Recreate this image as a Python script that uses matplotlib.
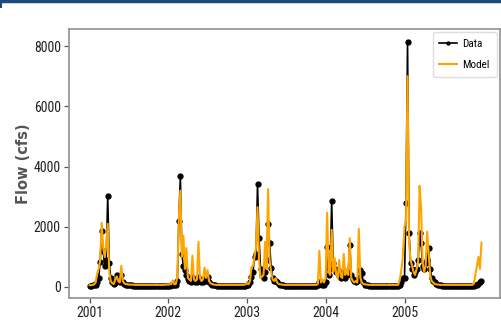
import pandas as pd
import matplotlib
matplotlib.use('Agg')
import matplotlib.pyplot as plt
from matplotlib import font_manager
from matplotlib.lines import Line2D

# Weekly flow values (cfs), one list per year
data_2001 = [40, 45, 50, 60, 80, 150, 300, 840, 1850, 1200, 700, 900, 3030,
             800, 300, 150, 100, 120, 400, 200, 150, 400, 150, 100, 80, 60,
             55, 50, 50, 45, 45, 40, 40, 40, 40, 40, 40, 40, 40,
             40, 40, 40, 40, 40, 40, 40, 40, 40, 40, 40, 45, 45]
model_2001 = [60, 60, 70, 90, 150, 450, 600, 900, 2130, 1300, 1000, 1360, 2100,
              500, 200, 120, 100, 250, 350, 200, 150, 700, 200, 120, 100, 90,
              80, 80, 80, 75, 75, 70, 70, 70, 70, 70, 70, 70, 70,
              70, 70, 70, 70, 70, 70, 70, 70, 70, 70, 70, 75, 80]

data_2002 = [45, 45, 50, 60, 50, 60, 200, 2200, 3690, 1100, 700, 560, 400,
             250, 200, 150, 340, 200, 150, 150, 340, 200, 150, 150, 250, 200,
             330, 150, 100, 80, 60, 50, 45, 45, 40, 40, 40, 40, 40,
             40, 40, 40, 40, 40, 40, 40, 40, 40, 40, 40, 45, 45]
model_2002 = [80, 90, 100, 220, 90, 100, 350, 2300, 3200, 1000, 1700, 600, 1290,
              300, 250, 200, 1040, 250, 200, 250, 1500, 300, 200, 250, 640, 300,
              560, 200, 120, 100, 80, 75, 70, 70, 70, 70, 70, 70, 70,
              70, 70, 70, 70, 70, 70, 70, 70, 70, 70, 70, 75, 80]

data_2003 = [50, 60, 150, 340, 500, 1000, 1100, 3410, 1620, 600, 400, 300, 500,
             900, 2080, 1470, 640, 300, 200, 200, 150, 100, 80, 60, 50, 45,
             45, 40, 40, 40, 40, 40, 40, 40, 40, 40, 40, 40, 40,
             40, 40, 40, 40, 40, 40, 40, 40, 80, 150, 100, 60, 80]
model_2003 = [130, 90, 200, 670, 700, 1000, 1300, 2650, 900, 300, 350, 400, 1500,
              600, 3250, 900, 500, 250, 200, 290, 150, 100, 90, 80, 75, 70,
              70, 70, 70, 70, 70, 70, 70, 70, 70, 70, 70, 70, 70,
              70, 70, 70, 70, 70, 70, 70, 70, 100, 1200, 150, 250, 150]

data_2004 = [150, 1340, 400, 600, 2860, 800, 600, 500, 560, 400, 300, 450, 500,
             300, 400, 500, 1400, 400, 250, 200, 150, 200, 300, 560, 450, 150,
             80, 60, 50, 45, 45, 40, 40, 40, 40, 40, 40, 40, 40,
             40, 40, 40, 40, 40, 40, 40, 40, 40, 40, 80, 150, 300]
model_2004 = [300, 2470, 500, 400, 1900, 500, 960, 400, 300, 900, 350, 300, 1100,
              400, 600, 400, 1620, 300, 200, 150, 200, 150, 1930, 300, 150, 100,
              90, 80, 75, 70, 70, 70, 70, 70, 70, 70, 70, 70, 70,
              70, 70, 70, 70, 70, 70, 70, 70, 70, 70, 200, 500, 900]

data_2005 = [300, 2780, 8140, 1800, 800, 600, 400, 500, 600, 900, 1790, 1450, 700,
             600, 800, 900, 1300, 600, 300, 200, 150, 100, 80, 60, 50, 45,
             40, 40, 40, 40, 40, 40, 40, 40, 40, 40, 40, 40, 40,
             40, 40, 40, 40, 40, 40, 40, 40, 60, 80, 100, 150, 200]
model_2005 = [2000, 2200, 7000, 1500, 900, 700, 500, 400, 600, 800, 3360, 2610, 800,
              500, 700, 1840, 1100, 400, 200, 150, 100, 90, 80, 75, 70, 70,
              70, 70, 70, 70, 70, 70, 70, 70, 70, 70, 70, 70, 70,
              70, 70, 70, 70, 70, 70, 70, 120, 400, 700, 1000, 600, 1470]

years = [2001, 2002, 2003, 2004, 2005]
data_by_year = [data_2001, data_2002, data_2003, data_2004, data_2005]
model_by_year = [model_2001, model_2002, model_2003, model_2004, model_2005]


def narrow_font():
    # pick a narrow face if one is installed, the tick text in the chart is squeezed
    fonts = font_manager.fontManager.ttflist
    names = {f.name for f in fonts}
    for name in ['Liberation Sans Narrow', 'Roboto Condensed', 'DejaVu Sans Condensed']:
        if name in names:
            return {'family': name}, True
    for f in fonts:
        if f.name == 'DejaVu Sans' and f.stretch == 'condensed' and f.weight == 'normal':
            return {'family': 'DejaVu Sans', 'stretch': 'condensed'}, True
    return {'family': 'DejaVu Sans'}, False


def build_series(values_by_year):
    parts = []
    for year, vals in zip(years, values_by_year):
        idx = pd.date_range(f'{year}-01-01', periods=len(vals), freq='7D')
        parts.append(pd.Series(vals, index=idx))
    return pd.concat(parts)


def main():
    data = build_series(data_by_year)
    model = build_series(model_by_year)
    font, is_narrow = narrow_font()
    tick_size = 10 if is_narrow else 8.8
    leg_size = 8 if is_narrow else 6.5

    fig = plt.figure(figsize=(5.01, 3.30), dpi=100)
    ax = fig.add_axes([0.138, 0.097, 0.86, 0.815])

    ax.plot(data.index, data.values, color='black', marker='o', markersize=3.5,
            linewidth=1.2, label='Data', zorder=2)
    ax.plot(model.index, model.values, color='#FFA500', linewidth=1.5,
            label='Model', zorder=3)

    ax.set_xlim(pd.Timestamp('2000-09-28'), pd.Timestamp('2006-03-20'))
    ax.set_ylim(-365, 8565)
    ax.set_xticks([pd.Timestamp(f'{y}-01-01') for y in years])
    ax.set_xticklabels([str(y) for y in years])
    ax.set_yticks([0, 2000, 4000, 6000, 8000])

    for lab in ax.get_xticklabels() + ax.get_yticklabels():
        lab.set(**font)
        lab.set_fontsize(tick_size)
        lab.set_color('#222222')
    ax.tick_params(length=3.5, width=0.9, color='#555555', pad=2.5)
    for sp in ax.spines.values():
        sp.set_color('#999999')
        sp.set_linewidth(1.3)

    ax.set_ylabel('Flow (cfs)', fontsize=10.5, fontweight='bold', color='#555555')
    ax.yaxis.set_label_coords(-0.088, 0.5)

    ax.legend(loc='upper right', prop=dict(font, size=leg_size),
              handlelength=1.6, borderpad=0.6, labelspacing=1.0,
              handletextpad=0.5, borderaxespad=0.3, markerscale=0.6,
              framealpha=1, edgecolor='#dddddd')

    # thin header rule across the top of the page
    fig.add_artist(Line2D([0, 1], [0.997, 0.997], color='#1c4a7c', linewidth=2.5,
                          transform=fig.transFigure))
    fig.add_artist(Line2D([0.002, 0.002], [0.98, 1.0], color='#1c4a7c',
                          linewidth=1.5, transform=fig.transFigure))

    fig.savefig('out.png', dpi=100)


if __name__ == '__main__':
    main()
